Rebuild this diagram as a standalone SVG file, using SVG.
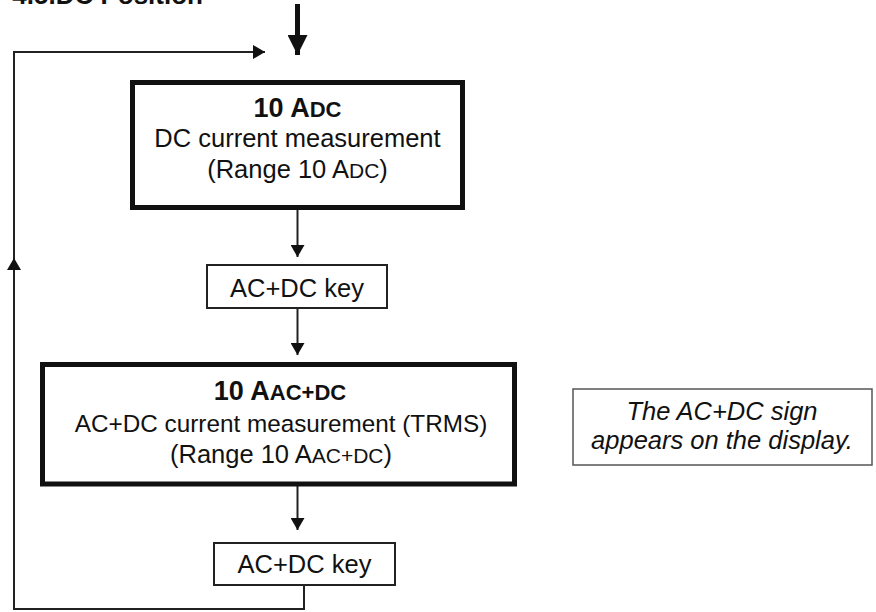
<svg xmlns="http://www.w3.org/2000/svg" width="876" height="612" viewBox="0 0 876 612">
<style>
  text { font-family: "Liberation Sans", Arial, sans-serif; fill: #111; }
  .t { font-size: 25.5px; text-anchor: middle; }
  .b { font-weight: bold; font-size: 27px; }
  .sc { font-size: 21px; }
  .b .sc { font-size: 22px; }
  .i { font-style: italic; }
  .thick { fill: #fff; stroke: #111; stroke-width: 5; }
  .thin { fill: #fff; stroke: #222; stroke-width: 2; }
  .note { fill: #fff; stroke: #555; stroke-width: 1.5; }
  .ln { fill: none; stroke: #222; stroke-width: 2; }
</style>
<defs>
  <marker id="ah" markerWidth="12" markerHeight="14" refX="12" refY="7" orient="auto" markerUnits="userSpaceOnUse">
    <path d="M0,0 L12,7 L0,14 Z" fill="#111"/>
  </marker>
  <marker id="ahb" markerWidth="20" markerHeight="20" refX="20" refY="10" orient="auto" markerUnits="userSpaceOnUse">
    <path d="M0,0 L20,10 L0,20 Z" fill="#111"/>
  </marker>
</defs>
<rect width="876" height="612" fill="#fff"/>
<text x="203" y="4" font-size="26" font-weight="bold" text-anchor="end">4.5.DC Position</text>
<g id="connectors">
  <line x1="297.5" y1="4" x2="297.5" y2="55" stroke="#111" stroke-width="5" marker-end="url(#ahb)"/>
  <line class="ln" x1="297.5" y1="210" x2="297.5" y2="257" marker-end="url(#ah)"/>
  <line class="ln" x1="297.5" y1="308" x2="297.5" y2="355" marker-end="url(#ah)"/>
  <line class="ln" x1="297.5" y1="486" x2="297.5" y2="530" marker-end="url(#ah)"/>
  <polyline class="ln" points="304,585 304,609 14,609 14,52 265,52" marker-end="url(#ah)"/>
  <line class="ln" x1="14" y1="300" x2="14" y2="258" marker-end="url(#ah)"/>
</g>
<g id="node-dc">
  <rect class="thick" x="132.5" y="82.5" width="330" height="125"/>
  <text class="t b" x="297.5" y="117">10 A<tspan class="sc">DC</tspan></text>
  <text class="t" x="297.5" y="147" font-size="26">DC current measurement</text>
  <text class="t" x="297.5" y="178" font-size="26">(Range 10 A<tspan class="sc">DC</tspan>)</text>
</g>
<g id="node-key1">
  <rect class="thin" x="207" y="265" width="180" height="43"/>
  <text class="t" x="297" y="297">AC+DC key</text>
</g>
<g id="node-acdc">
  <rect class="thick" x="42.5" y="364.5" width="472" height="119.5"/>
  <text class="t b" x="280" y="400">10 A<tspan class="sc">AC+DC</tspan></text>
  <text class="t" x="281" y="432" style="font-size:24.3px">AC+DC current measurement (TRMS)</text>
  <text class="t" x="281" y="463">(Range 10 A<tspan class="sc">AC+DC</tspan>)</text>
</g>
<g id="node-note">
  <rect class="note" x="573" y="389" width="299" height="76"/>
  <text class="t i" x="722" y="420">The AC+DC sign</text>
  <text class="t i" x="722" y="449">appears on the display.</text>
</g>
<g id="node-key2">
  <rect class="thin" x="214" y="543" width="181" height="42"/>
  <text class="t" x="304.5" y="573">AC+DC key</text>
</g>
</svg>
